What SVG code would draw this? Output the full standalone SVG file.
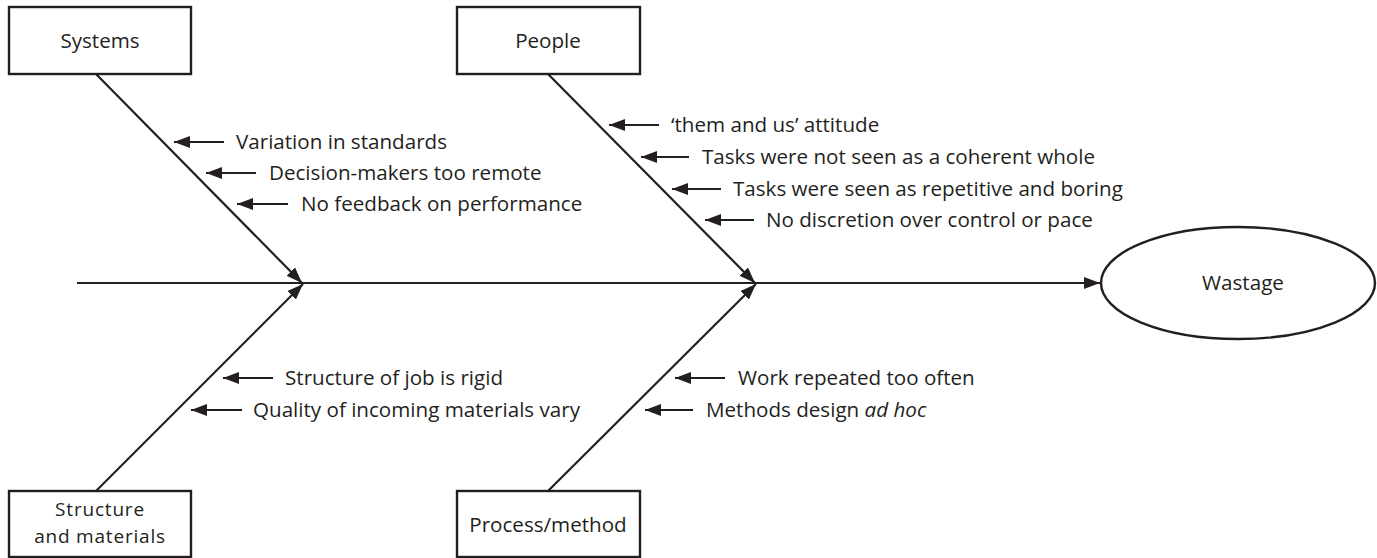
<svg xmlns="http://www.w3.org/2000/svg" width="1377" height="558" viewBox="0 0 1377 558">
  <style>
    .box { fill: #fff; stroke: #231f20; stroke-width: 2.4; }
    .ln { stroke: #231f20; stroke-width: 2.2; fill: none; }
    .lbl { font-family: "Open Sans", "Liberation Sans", sans-serif; font-size: 20.6px; fill: #231f20; }
    .mid { text-anchor: middle; }
    .two { font-size: 19px; letter-spacing: 0.8px; }
  </style>
  <defs>
    <marker id="ah" viewBox="0 0 16 12" refX="16" refY="6" markerWidth="16" markerHeight="12" markerUnits="userSpaceOnUse" orient="auto">
      <path d="M0,0 L16,6 L0,12 Z" fill="#231f20"/>
    </marker>
  </defs>

  <g id="connectors">
    <!-- spine -->
    <line class="ln" x1="77" y1="283" x2="1100" y2="283" marker-end="url(#ah)"/>
    <!-- branches -->
    <line class="ln" x1="96" y1="74" x2="302" y2="283" marker-end="url(#ah)"/>
    <line class="ln" x1="548" y1="74" x2="755" y2="283" marker-end="url(#ah)"/>
    <line class="ln" x1="96" y1="491" x2="303" y2="284" marker-end="url(#ah)"/>
    <line class="ln" x1="548" y1="491" x2="756" y2="284" marker-end="url(#ah)"/>
    <!-- cause arrows -->
    <line class="ln" x1="224" y1="142" x2="174" y2="142" marker-end="url(#ah)"/>
    <line class="ln" x1="256" y1="173" x2="206" y2="173" marker-end="url(#ah)"/>
    <line class="ln" x1="288" y1="204" x2="237" y2="204" marker-end="url(#ah)"/>
    <line class="ln" x1="659" y1="125" x2="609" y2="125" marker-end="url(#ah)"/>
    <line class="ln" x1="689" y1="157" x2="641" y2="157" marker-end="url(#ah)"/>
    <line class="ln" x1="721" y1="189" x2="672" y2="189" marker-end="url(#ah)"/>
    <line class="ln" x1="754" y1="220" x2="705" y2="220" marker-end="url(#ah)"/>
    <line class="ln" x1="273" y1="378" x2="223" y2="378" marker-end="url(#ah)"/>
    <line class="ln" x1="242" y1="410" x2="191" y2="410" marker-end="url(#ah)"/>
    <line class="ln" x1="725" y1="378" x2="675" y2="378" marker-end="url(#ah)"/>
    <line class="ln" x1="693" y1="410" x2="645" y2="410" marker-end="url(#ah)"/>
  </g>

  <g id="systems">
    <rect class="box" x="9" y="7" width="182" height="67"/>
    <text class="lbl mid" x="100" y="48">Systems</text>
  </g>
  <g id="people">
    <rect class="box" x="457" y="7" width="183" height="67"/>
    <text class="lbl mid" x="548" y="48">People</text>
  </g>
  <g id="structure">
    <rect class="box" x="9" y="491" width="182" height="66"/>
    <text class="lbl mid two" x="100" y="516">Structure</text>
    <text class="lbl mid two" x="100" y="543">and materials</text>
  </g>
  <g id="process">
    <rect class="box" x="457" y="491" width="183" height="66"/>
    <text class="lbl mid" x="548" y="532">Process/method</text>
  </g>
  <g id="wastage">
    <ellipse class="box" cx="1238" cy="283" rx="137" ry="56"/>
    <text class="lbl mid" x="1243" y="290">Wastage</text>
  </g>

  <g id="causes">
    <text class="lbl" x="236" y="149">Variation in standards</text>
    <text class="lbl" x="269" y="180">Decision-makers too remote</text>
    <text class="lbl" x="301" y="211">No feedback on performance</text>
    <text class="lbl" x="671" y="132">‘them and us’ attitude</text>
    <text class="lbl" x="702" y="164">Tasks were not seen as a coherent whole</text>
    <text class="lbl" x="733" y="196">Tasks were seen as repetitive and boring</text>
    <text class="lbl" x="766" y="227">No discretion over control or pace</text>
    <text class="lbl" x="285" y="385">Structure of job is rigid</text>
    <text class="lbl" x="253" y="417">Quality of incoming materials vary</text>
    <text class="lbl" x="738" y="385">Work repeated too often</text>
    <text class="lbl" x="706" y="417">Methods design <tspan font-style="italic">ad hoc</tspan></text>
  </g>
</svg>
